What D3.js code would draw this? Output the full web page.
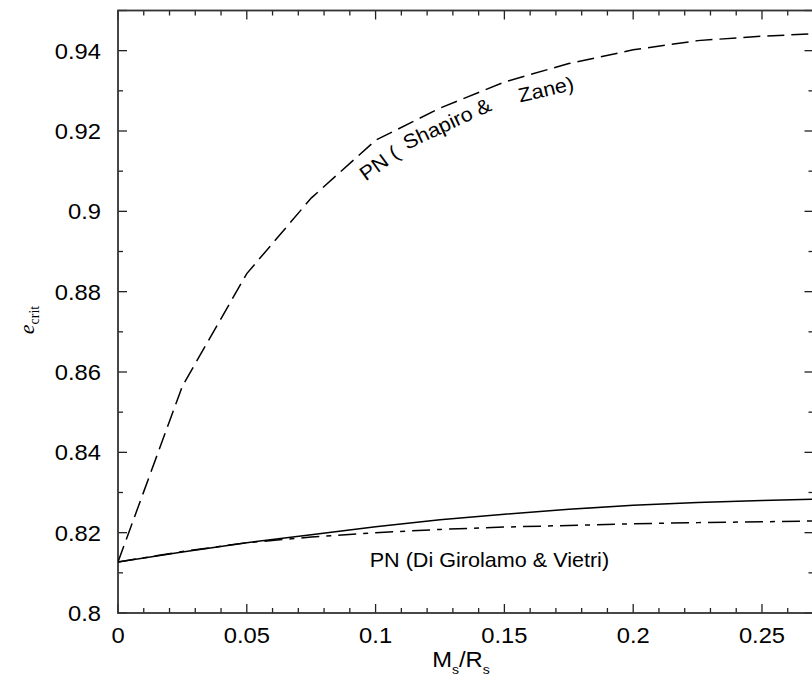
<!DOCTYPE html>
<html>
<head>
<meta charset="utf-8">
<script src="https://cdn.jsdelivr.net/npm/d3@7"></script>
<style>
  body { margin: 0; background: #fff; }
  svg { display: block; }
  text { fill: #000; }
</style>
</head>
<body>
<svg id="chart"></svg>
<script>
// values
const compactness = [0, 0.025, 0.05, 0.075, 0.1, 0.125, 0.15, 0.175, 0.2, 0.225, 0.25, 0.27]
const shapiroZane = [0.8127, 0.8565, 0.8845, 0.9033, 0.9177, 0.9257, 0.9322, 0.9368, 0.9402, 0.9425, 0.9436, 0.9442]
const solidPN = [0.8127, 0.8152, 0.8175, 0.8195, 0.8215, 0.8232, 0.8246, 0.8258, 0.8268, 0.8275, 0.8280, 0.8283]
const diGirolamoVietri = [0.8127, 0.8153, 0.8175, 0.8189, 0.8200, 0.8208, 0.8214, 0.8218, 0.8222, 0.8225, 0.8227, 0.8229]
const xTicks = [0, 0.05, 0.1, 0.15, 0.2, 0.25]
const yTicks = [0.8, 0.82, 0.84, 0.86, 0.88, 0.9, 0.92, 0.94]

const w = 812
const h = 684
const margin = { top: 10.5, right: -1.5, bottom: 71, left: 118 }

const svg = d3.select('#chart')
  .attr('width', w)
  .attr('height', h)

const xScale = d3.scaleLinear()
  .domain([0, 0.27])
  .range([margin.left, w - margin.right])

const yScale = d3.scaleLinear()
  .domain([0.8, 0.95])
  .range([h - margin.bottom, margin.top])

const x0 = xScale.range()[0], x1 = xScale.range()[1]
const y0 = yScale.range()[0], y1 = yScale.range()[1]

const font = 'Liberation Sans, Arial, Helvetica, sans-serif'
// the original is a bit wider than it is tall, so text gets stretched sideways
const stretch = 1.08

// minor ticks every 0.01 on both axes
const xMinor = d3.range(0, 0.2701, 0.01)
const yMinor = d3.range(0.8, 0.9501, 0.01)
const isMajorX = v => xTicks.some(t => Math.abs(t - v) < 1e-6)
const isMajorY = v => yTicks.some(t => Math.abs(t - v) < 1e-6) || Math.abs(v - 0.95) < 1e-6

const ticks = svg.append('g')
  .attr('stroke', '#222')
  .attr('stroke-width', 1.3)

xMinor.forEach(v => {
  const len = isMajorX(v) ? 9 : 5
  const x = xScale(v)
  ticks.append('line').attr('x1', x).attr('x2', x).attr('y1', y0).attr('y2', y0 - len)
  ticks.append('line').attr('x1', x).attr('x2', x).attr('y1', y1).attr('y2', y1 + len)
})
yMinor.forEach(v => {
  const len = isMajorY(v) ? 9 : 5
  const y = yScale(v)
  ticks.append('line').attr('x1', x0).attr('x2', x0 + len).attr('y1', y).attr('y2', y)
  ticks.append('line').attr('x1', x1).attr('x2', x1 - len).attr('y1', y).attr('y2', y)
})

// frame
svg.append('rect')
  .attr('x', x0)
  .attr('y', y1)
  .attr('width', x1 - x0)
  .attr('height', y0 - y1)
  .attr('fill', 'none')
  .attr('stroke', '#333')
  .attr('stroke-width', 1.8)

// tick labels
svg.append('g')
  .selectAll('text')
  .data(xTicks)
  .join('text')
    .attr('transform', d => `translate(${xScale(d)}, ${y0 + 30}) scale(${stretch}, 1)`)
    .attr('text-anchor', 'middle')
    .style('font-family', font)
    .style('font-size', '22px')
    .text(d => d3.format('~g')(d))

svg.append('g')
  .selectAll('text')
  .data(yTicks)
  .join('text')
    .attr('transform', d => `translate(${x0 - 17}, ${yScale(d) + 8}) scale(${stretch}, 1)`)
    .attr('text-anchor', 'end')
    .style('font-family', font)
    .style('font-size', '22px')
    .text(d => d3.format('~g')(d))

// axis titles
const xTitle = svg.append('text')
  .attr('transform', `translate(461, 667) scale(${stretch}, 1)`)
  .attr('text-anchor', 'middle')
  .style('font-family', font)
  .style('font-size', '22px')
xTitle.append('tspan').text('M')
xTitle.append('tspan').attr('dy', 7).style('font-size', '13px').text('s')
xTitle.append('tspan').attr('dy', -7).text('/R')
xTitle.append('tspan').attr('dy', 7).style('font-size', '13px').text('s')

const yTitle = svg.append('text')
  .attr('transform', 'translate(34, 320) rotate(-90)')
  .attr('text-anchor', 'middle')
  .style('font-family', 'Liberation Serif, Times New Roman, serif')
yTitle.append('tspan').style('font-style', 'italic').style('font-size', '22px').text('e')
yTitle.append('tspan').attr('dy', 5).style('font-size', '14px').text('crit')

// curves
svg.append('clipPath').attr('id', 'plot')
  .append('rect')
  .attr('x', x0).attr('y', y1)
  .attr('width', x1 - x0).attr('height', y0 - y1)

const line = d3.line()
  .x(d => xScale(d[0]))
  .y(d => yScale(d[1]))

const series = [
  { values: shapiroZane, dash: '17,7' },
  { values: solidPN, dash: null },
  { values: diGirolamoVietri, dash: '18,7,5,7' }
]

svg.append('g')
  .attr('clip-path', 'url(#plot)')
  .selectAll('path')
  .data(series)
  .join('path')
    .attr('d', s => line(compactness.map((c, i) => [c, s.values[i]])))
    .attr('fill', 'none')
    .attr('stroke', '#000')
    .attr('stroke-width', 1.5)
    .attr('stroke-dasharray', s => s.dash)

// curve labels
svg.append('text')
  .attr('transform', `translate(${xScale(0.0977)}, ${yScale(0.8115)}) scale(${stretch}, 1)`)
  .style('font-family', font)
  .style('font-size', '20px')
  .text('PN (Di Girolamo & Vietri)')

const bent = [
  { text: 'PN (', x: 0.0962, y: 0.9074, angle: -36 },
  { text: 'Shapiro &', x: 0.1122, y: 0.9153, angle: -25 },
  { text: 'Zane)', x: 0.1561, y: 0.9271, angle: -13 }
]
svg.append('g')
  .selectAll('text')
  .data(bent)
  .join('text')
    .attr('transform', d => `translate(${xScale(d.x)}, ${yScale(d.y)}) rotate(${d.angle}) scale(${stretch}, 1)`)
    .style('font-family', font)
    .style('font-size', '20px')
    .text(d => d.text)
</script>
</body>
</html>
